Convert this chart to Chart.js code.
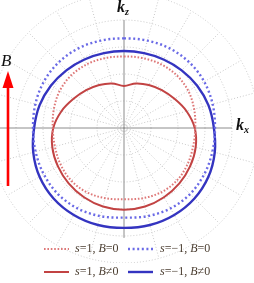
<!DOCTYPE html>
<html>
<head>
<meta charset="utf-8">
<script src="https://cdn.jsdelivr.net/npm/chart.js@4/dist/chart.umd.min.js"></script>
<style>
    html, body { margin: 0; padding: 0; background: #fff; }
    #page { position: relative; width: 254px; height: 283px; overflow: hidden; }
    #polarWrap { position: absolute; left: -11px; top: -7px; width: 270px; height: 270px; }
    .math { font-family: "Liberation Serif", "DejaVu Serif", serif; position: absolute; white-space: nowrap; }
    .ax { font-style: italic; font-weight: bold; font-size: 16px; color: #111; }
    .ax sub { font-size: 10px; vertical-align: -3px; }
    #bLabel { left: 1px; top: 51px; font-style: italic; font-size: 17px; color: #111; }
    .legItem { position: absolute; top: 0; height: 14px; }
    .legItem svg { position: absolute; top: 0; }
    .legItem span { position: absolute; top: -1px; font-size: 12px; color: #4a3d30; }
    .legItem i { font-style: italic; }
</style>
</head>
<body>
<div id="page">
    <div id="polarWrap"><canvas id="polarChart" width="270" height="270"></canvas></div>

    <span class="math ax" style="left:117px; top:-2px;">k<sub>z</sub></span>
    <span class="math ax" style="left:236px; top:116px;">k<sub>x</sub></span>

    <svg style="position:absolute; left:0; top:70px;" width="18" height="118">
        <line x1="8" y1="14" x2="8" y2="116" stroke="#ff0000" stroke-width="2.6"/>
        <polygon points="8,1 2.5,18 13.5,18" fill="#ff0000"/>
    </svg>
    <span id="bLabel" class="math">B</span>

    <div id="legend"></div>
</div>

<script>
// angles in degrees, clockwise from the kz axis (15 degree steps)
const angles = ['0', '15', '30', '45', '60', '75', '90', '105', '120', '135', '150', '165',
    '180', '195', '210', '225', '240', '255', '270', '285', '300', '315', '330', '345'];

// radius in grid-ring units (one ring = one unit)
const redZeroB = [2.65, 2.68, 2.73, 2.76, 2.75, 2.69, 2.64, 2.65, 2.71, 2.76, 2.75, 2.69,
    2.64, 2.69, 2.75, 2.76, 2.71, 2.65, 2.64, 2.69, 2.75, 2.76, 2.73, 2.68];
const blueZeroB = [3.32, 3.35, 3.40, 3.43, 3.43, 3.40, 3.37, 3.39, 3.43, 3.46, 3.44, 3.38,
    3.32, 3.38, 3.44, 3.46, 3.43, 3.39, 3.37, 3.40, 3.43, 3.43, 3.40, 3.35];
const redWithB = [1.56, 1.71, 1.84, 1.98, 2.16, 2.40, 2.62, 2.75, 2.83, 2.90, 2.96, 3.01,
    3.03, 3.01, 2.96, 2.90, 2.83, 2.75, 2.62, 2.40, 2.16, 1.98, 1.84, 1.71];
const blueWithB = [2.85, 2.87, 2.93, 3.02, 3.13, 3.24, 3.33, 3.48, 3.61, 3.69, 3.72, 3.72,
    3.70, 3.72, 3.72, 3.69, 3.61, 3.48, 3.33, 3.24, 3.13, 3.02, 2.93, 2.87];

const ringMax = 5;
const axisIndex = [0, 6, 12, 18];
const axisLength = [4.0, 4.0, 4.07, 4.6];

const series = [
    { name: ['s', '=1, ', 'B', '=0'], data: redZeroB, color: '#de7878', width: 2, dash: [1.6, 1.8] },
    { name: ['s', '=\u22121, ', 'B', '=0'], data: blueZeroB, color: '#6a6ae6', width: 2.4, dash: [2, 2.6] },
    { name: ['s', '=1, ', 'B', '\u22600'], data: redWithB, color: '#c24343', width: 2, dash: [] },
    { name: ['s', '=\u22121, ', 'B', '\u22600'], data: blueWithB, color: '#3434c0', width: 2.4, dash: [] }
];

// kx / kz axes drawn along the radial scale
const kAxesPlugin = {
    id: 'kAxes',
    beforeDatasetsDraw(chart) {
        const scale = chart.scales.r;
        const ctx = chart.ctx;
        ctx.save();
        ctx.strokeStyle = '#8c8c8c';
        ctx.lineWidth = 1;
        axisIndex.forEach((idx, i) => {
            const p = scale.getPointPositionForValue(idx, axisLength[i]);
            ctx.beginPath();
            ctx.moveTo(scale.xCenter, scale.yCenter);
            ctx.lineTo(p.x, p.y);
            ctx.stroke();
        });
        ctx.restore();
    }
};

new Chart(document.getElementById('polarChart'), {
    type: 'radar',
    data: {
        labels: angles,
        datasets: series.map(s => ({
            label: s.name.join(''),
            data: s.data,
            borderColor: s.color,
            borderWidth: s.width,
            borderDash: s.dash,
            borderCapStyle: 'butt',
            fill: false,
            pointRadius: 0,
            tension: 0.34
        }))
    },
    options: {
        responsive: false,
        animation: false,
        layout: { padding: 0 },
        plugins: { legend: { display: false }, tooltip: { enabled: false } },
        scales: {
            r: {
                min: 0,
                max: ringMax,
                ticks: { display: false, stepSize: 1 },
                pointLabels: { display: false },
                grid: { circular: true, color: '#c8c8c8', lineWidth: 1 },
                border: { dash: [1, 2] },
                angleLines: {
                    color: ctx => axisIndex.includes(ctx.index) ? 'rgba(0,0,0,0)' : '#c8c8c8',
                    lineWidth: 1,
                    borderDash: [1, 2]
                }
            }
        }
    },
    plugins: [kAxesPlugin]
});

// legend: two rows, two columns
const legendPos = [
    { top: 242, lineX: 44, textX: 75 },
    { top: 242, lineX: 128, textX: 160 },
    { top: 265, lineX: 44, textX: 75 },
    { top: 265, lineX: 128, textX: 160 }
];
const legend = document.getElementById('legend');
series.forEach((s, i) => {
    const pos = legendPos[i];
    const item = document.createElement('div');
    item.className = 'legItem';
    item.style.top = pos.top + 'px';
    item.style.left = '0px';
    item.innerHTML = `
        <svg style="left:${pos.lineX}px" width="25" height="14">
            <line x1="0" y1="7" x2="25" y2="7" stroke="${s.color}" stroke-width="${s.width}"
                  stroke-dasharray="${s.dash.length ? s.dash.join(' ') : 'none'}"/>
        </svg>
        <span class="math" style="left:${pos.textX}px"><i>${s.name[0]}</i>${s.name[1]}<i>${s.name[2]}</i>${s.name[3]}</span>`;
    legend.appendChild(item);
});
</script>
</body>
</html>
